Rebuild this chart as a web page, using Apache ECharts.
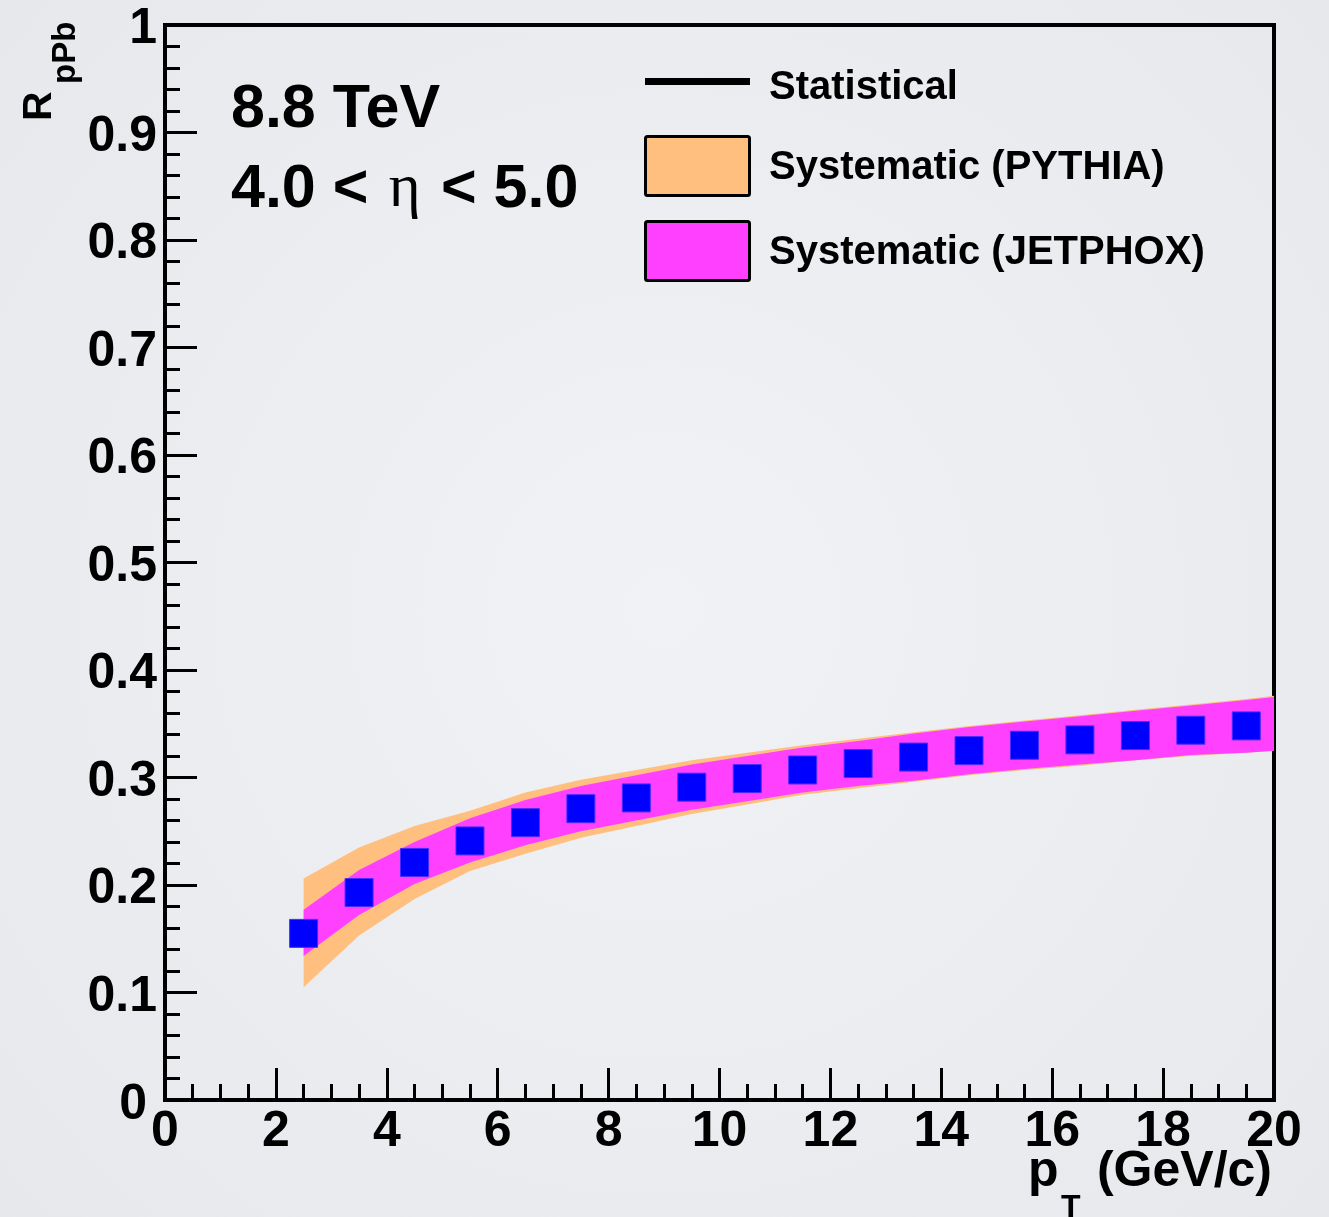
<!DOCTYPE html>
<html>
<head>
<meta charset="utf-8">
<script src="https://cdn.jsdelivr.net/npm/echarts@6/dist/echarts.min.js"></script>
<style>
    html, body { margin: 0; padding: 0; }
    #rpPbChart { width: 1329px; height: 1217px; }
</style>
</head>
<body>
<div id="rpPbChart"></div>
<script>
// points (pT bin centres) and R_pPb
var ptValues = [2.5, 3.5, 4.5, 5.5, 6.5, 7.5, 8.5, 9.5, 10.5, 11.5, 12.5, 13.5, 14.5, 15.5, 16.5, 17.5, 18.5, 19.5];
var rpPbValues = [0.155, 0.193, 0.221, 0.241, 0.258, 0.271, 0.281, 0.291, 0.299, 0.307, 0.313, 0.319, 0.325, 0.330, 0.335, 0.339, 0.344, 0.348];

// systematic bands, edges at these pT
var bandPt = [2.5, 3.5, 4.5, 5.5, 6.5, 7.5, 8.5, 9.5, 10.5, 11.5, 12.5, 13.5, 14.5, 15.5, 16.5, 17.5, 18.5, 19.5, 20];
var pythiaHigh = [0.206, 0.235, 0.255, 0.269, 0.286, 0.298, 0.307, 0.316, 0.323, 0.330, 0.336, 0.342, 0.348, 0.353, 0.358, 0.363, 0.368, 0.373, 0.376];
var pythiaLow = [0.105, 0.153, 0.187, 0.213, 0.229, 0.244, 0.255, 0.266, 0.275, 0.284, 0.290, 0.296, 0.302, 0.307, 0.311, 0.316, 0.320, 0.323, 0.325];
var jetphoxHigh = [0.177, 0.214, 0.240, 0.262, 0.279, 0.292, 0.302, 0.312, 0.320, 0.328, 0.334, 0.341, 0.347, 0.352, 0.357, 0.362, 0.367, 0.372, 0.375];
var jetphoxLow = [0.134, 0.172, 0.201, 0.221, 0.237, 0.250, 0.260, 0.270, 0.278, 0.286, 0.292, 0.297, 0.303, 0.308, 0.312, 0.316, 0.321, 0.323, 0.325];

var legendNames = ['Statistical', 'Systematic (PYTHIA)', 'Systematic (JETPHOX)'];

var FONT = '"Liberation Sans", Arial, Helvetica, sans-serif';
var ORANGE = '#ffbf7f';
var MAGENTA = '#ff40ff';

function bandSeries(name, high, low, color, z) {
    return {
        name: name,
        type: 'custom',
        coordinateSystem: 'cartesian2d',
        silent: true,
        clip: true,
        z: z,
        data: bandPt.map(function(x, i) { return [x, low[i], high[i]]; }),
        encode: { x: 0, y: [1, 2] },
        renderItem: function(params, api) {
            if (params.dataIndex !== 0) return null;
            var pts = [];
            for (var i = 0; i < bandPt.length; i++) {
                pts.push(api.coord([bandPt[i], high[i]]));
            }
            for (var j = bandPt.length - 1; j >= 0; j--) {
                pts.push(api.coord([bandPt[j], low[j]]));
            }
            return {
                type: 'polygon',
                shape: { points: pts },
                style: { fill: color, stroke: null }
            };
        }
    };
}

function axisCommon() {
    return {
        axisLine: { show: true, onZero: false, lineStyle: { color: '#000', width: 4 } },
        axisTick: { show: true, inside: true, lineStyle: { color: '#000', width: 3 } },
        minorTick: { show: true, lineStyle: { color: '#000', width: 3 } },
        splitLine: { show: false },
        minorSplitLine: { show: false },
        axisLabel: {
            color: '#000',
            fontFamily: FONT,
            fontWeight: 'bold',
            fontSize: 50,
            showMinLabel: true,
            showMaxLabel: true,
            hideOverlap: false
        }
    };
}

var chart = echarts.init(document.getElementById('rpPbChart'));

var xAxis = axisCommon();
xAxis.type = 'value';
xAxis.min = 0;
xAxis.max = 20;
xAxis.interval = 2;
xAxis.axisTick.length = 32;
xAxis.minorTick.splitNumber = 4;
xAxis.minorTick.length = 16;
xAxis.axisLabel.margin = 7;

var yAxis = axisCommon();
yAxis.type = 'value';
yAxis.min = 0;
yAxis.max = 1;
yAxis.interval = 0.1;
yAxis.axisTick.length = 32;
yAxis.minorTick.splitNumber = 5;
yAxis.minorTick.length = 15;
yAxis.axisLabel.margin = 8;
// labels sit a few px below their tick, the "0" a bit further left
yAxis.axisLabel.formatter = function(val) {
    return val === 0 ? '{z|0}' : '{v|' + val + '}';
};
yAxis.axisLabel.rich = {
    v: { fontFamily: FONT, fontWeight: 'bold', fontSize: 50, color: '#000', padding: [9, 0, 0, 0] },
    z: { fontFamily: FONT, fontWeight: 'bold', fontSize: 50, color: '#000', padding: [10, 10, 0, 0] }
};

chart.setOption({
    backgroundColor: {
        type: 'radial', x: 0.5, y: 0.5, r: 0.75,
        colorStops: [{ offset: 0, color: '#f1f2f5' }, { offset: 1, color: '#e6e8ec' }]
    },
    animation: false,
    grid: {
        left: 165, right: 55, top: 25, bottom: 117,
        show: true, borderColor: '#000', borderWidth: 4, backgroundColor: 'transparent'
    },
    xAxis: xAxis,
    yAxis: yAxis,
    series: [
        bandSeries(legendNames[1], pythiaHigh, pythiaLow, ORANGE, 1),
        bandSeries(legendNames[2], jetphoxHigh, jetphoxLow, MAGENTA, 2),
        {
            name: legendNames[0],
            type: 'scatter',
            z: 3,
            symbol: 'rect',
            symbolSize: 28,
            silent: true,
            data: ptValues.map(function(x, i) { return [x, rpPbValues[i]]; }),
            itemStyle: { color: '#0000ff', borderColor: '#4a2cff', borderWidth: 1, opacity: 1 }
        }
    ],
    graphic: [
        // energy / eta labels
        { type: 'text', x: 231, y: 110, style: { text: '8.8 TeV', font: 'bold 61px ' + FONT, fill: '#000', verticalAlign: 'middle' } },
        {
            type: 'text', x: 231, y: 190,
            style: {
                text: '{a|4.0 <}{g|\u200a η \u200a}{a|< 5.0}',
                fill: '#000',
                verticalAlign: 'middle',
                rich: {
                    a: { font: 'bold 61px ' + FONT, fill: '#000' },
                    g: { font: '61px "Liberation Serif", "DejaVu Serif", serif', fill: '#000' }
                }
            }
        },
        // legend
        { type: 'rect', shape: { x: 645, y: 78, width: 105, height: 7 }, style: { fill: '#000' } },
        { type: 'rect', shape: { x: 645.5, y: 136.5, width: 104, height: 59, r: 2 }, style: { fill: ORANGE, stroke: '#000', lineWidth: 3 } },
        { type: 'rect', shape: { x: 645.5, y: 221.5, width: 104, height: 59, r: 2 }, style: { fill: MAGENTA, stroke: '#000', lineWidth: 3 } },
        { type: 'text', x: 769, y: 88, style: { text: legendNames[0], font: 'bold 40px ' + FONT, fill: '#000', verticalAlign: 'middle' } },
        { type: 'text', x: 769, y: 168, style: { text: legendNames[1], font: 'bold 40px ' + FONT, fill: '#000', verticalAlign: 'middle' } },
        { type: 'text', x: 769, y: 253, style: { text: legendNames[2], font: 'bold 40px ' + FONT, fill: '#000', verticalAlign: 'middle' } },
        // y title R_pPb
        { type: 'text', x: 40, y: 121, rotation: Math.PI / 2, style: { text: 'R', font: 'bold 41px ' + FONT, fill: '#000', align: 'left', verticalAlign: 'middle' } },
        { type: 'text', x: 66, y: 84, rotation: Math.PI / 2, style: { text: 'pPb', font: 'bold 33px ' + FONT, fill: '#000', align: 'left', verticalAlign: 'middle' } },
        // x title p_T (GeV/c)
        { type: 'text', x: 1028, y: 1172, style: { text: 'p', font: 'bold 50px ' + FONT, fill: '#000', verticalAlign: 'middle' } },
        { type: 'text', x: 1061, y: 1208, style: { text: 'T', font: 'bold 32px ' + FONT, fill: '#000', verticalAlign: 'middle' } },
        { type: 'text', x: 1272, y: 1172, style: { text: '(GeV/c)', font: 'bold 50px ' + FONT, fill: '#000', align: 'right', verticalAlign: 'middle' } }
    ]
});
</script>
</body>
</html>
